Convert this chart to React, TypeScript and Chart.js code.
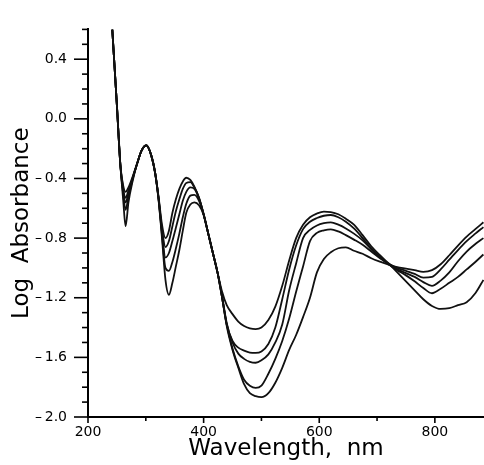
import React, { useEffect, useRef } from 'react';
import { Chart, registerables } from 'chart.js';

Chart.register(...registerables);

// Wavelength grid (nm)
const wavelengths = [
  242, 250, 256, 261, 265, 270, 277, 285, 293, 301,
  309, 316, 322, 328, 334, 340, 346, 352, 358, 364,
  370, 377, 384, 392, 400, 408, 416, 424, 432, 440,
  450, 460, 470, 480, 490, 500, 512, 524, 536, 548,
  560, 572, 584, 596, 608, 620, 633, 646, 660, 675,
  690, 705, 720, 735, 750, 765, 780, 795, 810, 825,
  840, 855, 870, 884,
];

// Log absorbance spectra
const spectrum1 = [
  0.60, 0.09, -0.31, -0.45, -0.49, -0.46, -0.39, -0.30, -0.21, -0.178,
  -0.24, -0.36, -0.52, -0.71, -0.80, -0.75, -0.63, -0.54, -0.47, -0.42,
  -0.395, -0.41, -0.455, -0.53, -0.64, -0.77, -0.90, -1.03, -1.16, -1.25,
  -1.31, -1.36, -1.39, -1.405, -1.41, -1.40, -1.35, -1.26, -1.12, -0.95,
  -0.80, -0.71, -0.66, -0.635, -0.622, -0.625, -0.64, -0.67, -0.71, -0.78,
  -0.855, -0.915, -0.97, -1.03, -1.09, -1.15, -1.21, -1.255, -1.275, -1.27,
  -1.25, -1.23, -1.17, -1.08,
];
const spectrum2 = [
  0.60, 0.09, -0.31, -0.47, -0.53, -0.48, -0.40, -0.30, -0.21, -0.178,
  -0.24, -0.36, -0.53, -0.74, -0.86, -0.82, -0.72, -0.62, -0.54, -0.47,
  -0.43, -0.425, -0.46, -0.53, -0.64, -0.77, -0.90, -1.03, -1.20, -1.38,
  -1.49, -1.535, -1.555, -1.568, -1.57, -1.56, -1.51, -1.40, -1.21, -1.01,
  -0.85, -0.74, -0.69, -0.665, -0.65, -0.645, -0.66, -0.69, -0.735, -0.80,
  -0.87, -0.925, -0.975, -1.015, -1.05, -1.09, -1.135, -1.17, -1.14, -1.10,
  -1.06, -1.01, -0.96, -0.91,
];
const spectrum3 = [
  0.60, 0.09, -0.31, -0.49, -0.56, -0.50, -0.40, -0.30, -0.21, -0.178,
  -0.24, -0.36, -0.53, -0.76, -0.93, -0.90, -0.82, -0.73, -0.64, -0.55,
  -0.49, -0.46, -0.47, -0.535, -0.64, -0.77, -0.90, -1.03, -1.19, -1.37,
  -1.50, -1.575, -1.61, -1.63, -1.636, -1.62, -1.58, -1.50, -1.38, -1.15,
  -0.97, -0.80, -0.745, -0.715, -0.70, -0.695, -0.71, -0.735, -0.77, -0.815,
  -0.875, -0.93, -0.975, -1.01, -1.035, -1.06, -1.095, -1.12, -1.085, -1.03,
  -0.955, -0.89, -0.84, -0.80,
];
const spectrum4 = [
  0.60, 0.09, -0.31, -0.51, -0.61, -0.52, -0.41, -0.30, -0.21, -0.178,
  -0.24, -0.36, -0.54, -0.78, -1.00, -1.02, -0.96, -0.87, -0.77, -0.66,
  -0.57, -0.515, -0.51, -0.55, -0.64, -0.77, -0.90, -1.03, -1.20, -1.38,
  -1.54, -1.66, -1.75, -1.79, -1.805, -1.79, -1.71, -1.61, -1.49, -1.34,
  -1.16, -0.99, -0.82, -0.765, -0.748, -0.741, -0.755, -0.78, -0.81, -0.845,
  -0.89, -0.935, -0.97, -1.00, -1.02, -1.04, -1.065, -1.06, -1.01, -0.945,
  -0.88, -0.82, -0.77, -0.726,
];
const spectrum5 = [
  0.60, 0.09, -0.31, -0.55, -0.72, -0.56, -0.42, -0.30, -0.21, -0.178,
  -0.24, -0.36, -0.54, -0.80, -1.08, -1.18, -1.10, -0.99, -0.88, -0.75,
  -0.63, -0.575, -0.56, -0.58, -0.645, -0.77, -0.90, -1.03, -1.20, -1.39,
  -1.55, -1.67, -1.78, -1.84, -1.86, -1.867, -1.84, -1.77, -1.67, -1.55,
  -1.45, -1.33, -1.20, -1.03, -0.94, -0.895, -0.868, -0.862, -0.885, -0.905,
  -0.935, -0.958, -0.978, -0.995, -1.005, -1.015, -1.026, -1.015, -0.975, -0.915,
  -0.85, -0.79, -0.74, -0.694,
];

const spectra = [spectrum1, spectrum2, spectrum3, spectrum4, spectrum5];

// Axis ticks
const xMajorTicks = [200, 400, 600, 800];
const xMinorTicks = [300, 500, 700];
const yMajorTicks = [-2.0, -1.6, -1.2, -0.8, -0.4, 0.0, 0.4];
const yMinorTicks = [
  -1.9, -1.8, -1.7, -1.5, -1.4, -1.3, -1.1, -1.0, -0.9, -0.7,
  -0.6, -0.5, -0.3, -0.2, -0.1, 0.1, 0.2, 0.3, 0.5, 0.6,
];

const formatY = (v: number) => {
  const s = Math.abs(v).toFixed(1);
  return v < -1e-9 ? '\u2013\u2009' + s : s;
};

const tickMarks = {
  id: 'tickMarks',
  afterDraw(chart: any) {
    const { ctx, chartArea, scales } = chart;
    const xs = scales.x;
    const ys = scales.y;
    ctx.save();
    ctx.strokeStyle = '#000';
    ctx.lineWidth = 1.6;
    const yTick = (v: number, len: number) => {
      const py = ys.getPixelForValue(v);
      ctx.beginPath();
      ctx.moveTo(chartArea.left - len, py);
      ctx.lineTo(chartArea.left, py);
      ctx.stroke();
    };
    const xTick = (v: number, len: number) => {
      const px = xs.getPixelForValue(v);
      ctx.beginPath();
      ctx.moveTo(px, chartArea.bottom);
      ctx.lineTo(px, chartArea.bottom + len);
      ctx.stroke();
    };
    yMajorTicks.forEach((v) => yTick(v, 14));
    yMinorTicks.forEach((v) => yTick(v, 6));
    xMajorTicks.forEach((v) => xTick(v, 6));
    xMinorTicks.forEach((v) => xTick(v, 4));
    ctx.restore();
  },
};

export default function App() {
  const ref = useRef<HTMLCanvasElement>(null);

  useEffect(() => {
    if (!ref.current) return;
    Chart.defaults.font.family = "'DejaVu Sans', sans-serif";
    Chart.defaults.color = '#000';
    const chart = new Chart(ref.current, {
      type: 'line',
      data: {
        datasets: spectra.map((s, k) => ({
          label: 'Spectrum ' + (k + 1),
          data: wavelengths.map((w, i) => ({ x: w, y: s[i] })),
          borderColor: '#111',
          borderWidth: 1.8,
          pointRadius: 0,
          fill: false,
          cubicInterpolationMode: 'monotone' as const,
        })),
      },
      options: {
        animation: false,
        responsive: false,
        devicePixelRatio: 1,
        layout: { padding: { top: 12, left: 0, right: 0, bottom: 0 } },
        plugins: {
          legend: { display: false },
          tooltip: { enabled: false },
        },
        scales: {
          x: {
            type: 'linear',
            min: 200,
            max: 885,
            afterBuildTicks: (s: any) => {
              s.ticks = xMajorTicks.map((v) => ({ value: v }));
            },
            afterFit: (s: any) => {
              s.height = 48;
            },
            grid: { display: false, drawTicks: false },
            border: { display: true, color: '#000', width: 2 },
            ticks: {
              padding: 7,
              autoSkip: false,
              maxRotation: 0,
              color: '#000',
              font: { size: 14 },
              callback: (v: any) => String(v),
            },
            title: {
              display: true,
              text: 'Wavelength,  nm',
              color: '#000',
              font: { size: 23 },
              padding: { top: 0, bottom: 2 },
            },
          },
          y: {
            type: 'linear',
            min: -2.0,
            max: 0.6,
            afterBuildTicks: (s: any) => {
              s.ticks = yMajorTicks.map((v) => ({ value: v }));
            },
            afterFit: (s: any) => {
              s.width = 88;
            },
            grid: { display: false, drawTicks: false },
            border: { display: true, color: '#000', width: 2 },
            ticks: {
              padding: 21,
              autoSkip: false,
              color: '#000',
              font: { size: 14 },
              callback: (v: any) => formatY(Number(v)),
            },
            title: {
              display: true,
              text: 'Log  Absorbance',
              color: '#000',
              font: { size: 23 },
              padding: { top: 8, bottom: 0 },
            },
          },
        },
      },
      plugins: [tickMarks],
    });
    return () => chart.destroy();
  }, []);

  return (
    <div style={{ position: 'absolute', left: 0, top: 0, width: 484, height: 465, background: '#fff' }}>
      <canvas ref={ref} width={484} height={465} style={{ display: 'block' }} />
    </div>
  );
}
